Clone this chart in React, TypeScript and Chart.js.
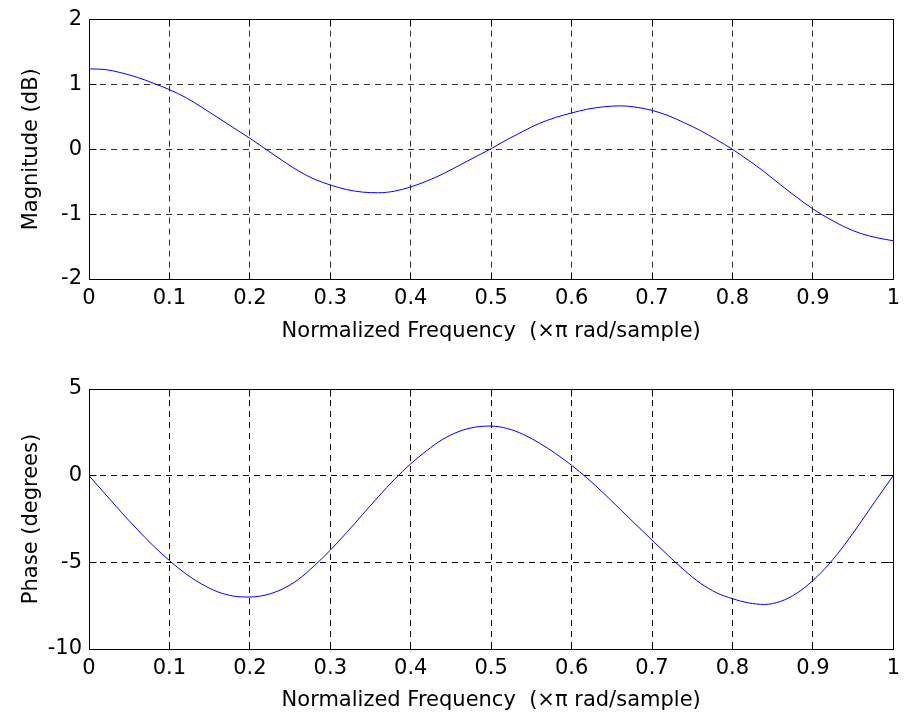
import React, { useEffect, useRef } from 'react';
import { Chart, registerables } from 'chart.js';

Chart.register(...registerables);

// ---------- data ----------
const magFreq = [0, 0.02, 0.04, 0.06, 0.08, 0.1, 0.12, 0.14, 0.16, 0.18, 0.2, 0.22, 0.24, 0.26, 0.28, 0.3, 0.32, 0.34, 0.36, 0.38, 0.4, 0.42, 0.44, 0.46, 0.48, 0.5, 0.52, 0.54, 0.56, 0.58, 0.6, 0.62, 0.64, 0.66, 0.68, 0.7, 0.72, 0.74, 0.76, 0.78, 0.8, 0.82, 0.84, 0.86, 0.88, 0.9, 0.92, 0.94, 0.96, 0.98, 1.0];
const magDb = [1.24, 1.23, 1.18, 1.11, 1.02, 0.92, 0.80, 0.65, 0.49, 0.33, 0.17, 0.0, -0.17, -0.33, -0.46, -0.55, -0.62, -0.66, -0.67, -0.645, -0.58, -0.49, -0.38, -0.25, -0.12, 0.01, 0.15, 0.28, 0.40, 0.49, 0.56, 0.62, 0.655, 0.67, 0.65, 0.60, 0.52, 0.41, 0.29, 0.15, 0.0, -0.17, -0.35, -0.55, -0.74, -0.92, -1.07, -1.20, -1.30, -1.365, -1.41];

const phFreq = [0, 0.02, 0.04, 0.06, 0.08, 0.1, 0.12, 0.14, 0.16, 0.18, 0.2, 0.22, 0.24, 0.26, 0.28, 0.3, 0.32, 0.34, 0.36, 0.38, 0.4, 0.42, 0.44, 0.46, 0.48, 0.5, 0.52, 0.54, 0.56, 0.58, 0.6, 0.62, 0.64, 0.66, 0.68, 0.7, 0.72, 0.74, 0.76, 0.78, 0.8, 0.82, 0.84, 0.86, 0.88, 0.9, 0.92, 0.94, 0.96, 0.98, 1.0];
const phDeg = [0, -1.05, -2.1, -3.1, -4.05, -4.9, -5.65, -6.25, -6.7, -6.95, -7.0, -6.88, -6.55, -6.0, -5.2, -4.3, -3.3, -2.25, -1.2, -0.2, 0.68, 1.45, 2.1, 2.55, 2.8, 2.86, 2.72, 2.38, 1.88, 1.28, 0.6, -0.17, -1.02, -1.92, -2.82, -3.72, -4.6, -5.45, -6.2, -6.75, -7.1, -7.34, -7.43, -7.25, -6.78, -6.05, -5.1, -3.95, -2.65, -1.3, 0];

const xTickLabels = ['0', '0.1', '0.2', '0.3', '0.4', '0.5', '0.6', '0.7', '0.8', '0.9', '1'];
const magTickLabels = ['-2', '-1', '0', '1', '2'];
const phTickLabels = ['-10', '-5', '0', '5'];

const xTitle = 'Normalized Frequency  (\u00d7\u03c0 rad/sample)';
const magTitle = 'Magnitude (dB)';
const phTitle = 'Phase (degrees)';

// ---------- styling ----------
const FONT = '"DejaVu Sans", "Liberation Sans", sans-serif';
const FONT_SIZE = 21;
const W = 907;

const align = (p: number) => Math.round(p - 0.5) + 0.5;

const boxPlugin = {
  id: 'matlabBox',
  afterDraw(chart: any) {
    const { ctx, chartArea: a, scales } = chart;
    const L = align(a.left), R = align(a.right), T = align(a.top), B = align(a.bottom);
    const tl = 7;
    ctx.save();
    ctx.setLineDash([]);
    ctx.strokeStyle = '#000';
    ctx.lineWidth = 1;
    ctx.beginPath();
    for (const t of scales.x.ticks) {
      const px = align(scales.x.getPixelForValue(t.value));
      ctx.moveTo(px, B); ctx.lineTo(px, B - tl);
      ctx.moveTo(px, T); ctx.lineTo(px, T + tl);
    }
    for (const t of scales.y.ticks) {
      const py = align(scales.y.getPixelForValue(t.value));
      ctx.moveTo(L, py); ctx.lineTo(L + tl, py);
      ctx.moveTo(R, py); ctx.lineTo(R - tl, py);
    }
    ctx.stroke();
    ctx.strokeRect(L, T, R - L, B - T);
    ctx.restore();
  },
};

function makeConfig(
  xs: number[], ys: number[], yMin: number, yMax: number, yStep: number,
  yLabels: string[], yTitle: string, padTop: number, xAxisHeight: number, xTitlePadBottom: number,
  gridColor: string
) {
  return {
    type: 'line' as const,
    data: {
      datasets: [{
        data: xs.map((x, i) => ({ x, y: ys[i] })),
        borderColor: '#0000ff',
        borderWidth: 1,
        pointRadius: 0,
        fill: false,
        cubicInterpolationMode: 'monotone' as const,
      }],
    },
    options: {
      responsive: false,
      animation: false as const,
      devicePixelRatio: 1,
      layout: { padding: { top: padTop, right: 10, left: 0, bottom: 0 } },
      plugins: { legend: { display: false }, tooltip: { enabled: false } },
      scales: {
        x: {
          type: 'linear' as const,
          min: 0, max: 1,
          afterFit: (s: any) => { s.height = xAxisHeight; },
          ticks: {
            stepSize: 0.1,
            padding: 7,
            color: '#000',
            font: { family: FONT, size: FONT_SIZE },
            maxRotation: 0,
            autoSkip: false,
            callback: (_v: any, i: number) => xTickLabels[i],
          },
          grid: { color: gridColor, lineWidth: 1, drawTicks: false },
          border: { display: false, dash: [6, 5] },
          title: {
            display: true, text: xTitle, color: '#000',
            font: { family: FONT, size: FONT_SIZE, lineHeight: 1.2 },
            padding: { top: 0, bottom: xTitlePadBottom },
          },
        },
        y: {
          type: 'linear' as const,
          min: yMin, max: yMax,
          afterFit: (s: any) => { s.width = 89; },
          ticks: {
            stepSize: yStep,
            padding: 7,
            color: '#000',
            font: { family: FONT, size: FONT_SIZE },
            callback: (_v: any, i: number) => yLabels[i],
          },
          grid: { color: gridColor, lineWidth: 1, drawTicks: false },
          border: { display: false, dash: [6, 5] },
          title: {
            display: true, text: yTitle, color: '#000',
            font: { family: FONT, size: FONT_SIZE, lineHeight: 1.2 },
            padding: { top: 19, bottom: 0 },
          },
        },
      },
    },
    plugins: [boxPlugin],
  };
}

export default function App() {
  const topRef = useRef<HTMLCanvasElement>(null);
  const botRef = useRef<HTMLCanvasElement>(null);

  useEffect(() => {
    const c1 = new Chart(topRef.current as HTMLCanvasElement,
      makeConfig(magFreq, magDb, -2, 2, 1, magTickLabels, magTitle, 19, 81, 16, '#333') as any);
    const c2 = new Chart(botRef.current as HTMLCanvasElement,
      makeConfig(phFreq, phDeg, -10, 5, 5, phTickLabels, phTitle, 29, 72, 8, '#000') as any);
    return () => { c1.destroy(); c2.destroy(); };
  }, []);

  return (
    <div style={{ position: 'absolute', left: 0, top: 0, width: W, height: 721, background: '#fff' }}>
      <canvas ref={topRef} width={W} height={360} style={{ display: 'block', position: 'absolute', left: 0, top: 0 }} />
      <canvas ref={botRef} width={W} height={361} style={{ display: 'block', position: 'absolute', left: 0, top: 360 }} />
    </div>
  );
}
